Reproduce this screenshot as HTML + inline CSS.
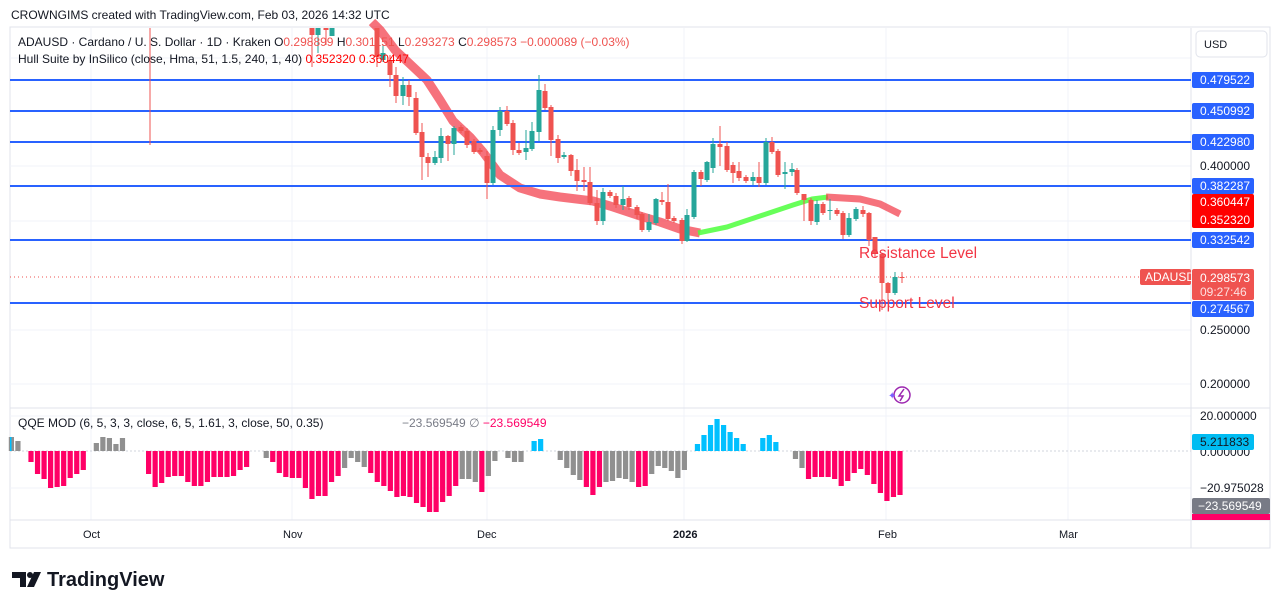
<!DOCTYPE html>
<html><head><meta charset="utf-8">
<style>
body{margin:0;background:#fff;width:1281px;height:609px;overflow:hidden;font-family:"Liberation Sans",sans-serif;}
svg text{font-family:"Liberation Sans",sans-serif;}
</style></head><body>
<svg id="s" width="1281" height="609" viewBox="0 0 1281 609" xmlns="http://www.w3.org/2000/svg">
<rect width="1281" height="609" fill="#fff"/>
<text x="11" y="19" font-size="12" fill="#131722">CROWNGIMS created with TradingView.com, Feb 03, 2026 14:32 UTC</text>
<rect x="10" y="27" width="1260" height="521" fill="none" stroke="#e0e3eb"/>
<g stroke="#f0f3fa" stroke-width="1">
<line x1="10" y1="58" x2="1191" y2="58"/><line x1="10" y1="166" x2="1191" y2="166"/><line x1="10" y1="221" x2="1191" y2="221"/>
<line x1="10" y1="330" x2="1191" y2="330"/><line x1="10" y1="384" x2="1191" y2="384"/>
<line x1="10" y1="416" x2="1191" y2="416"/><line x1="10" y1="488" x2="1191" y2="488"/>
<line x1="91" y1="28" x2="91" y2="520"/><line x1="292" y1="28" x2="292" y2="520"/><line x1="487" y1="28" x2="487" y2="520"/>
<line x1="684" y1="28" x2="684" y2="520"/><line x1="886" y1="28" x2="886" y2="520"/><line x1="1068" y1="28" x2="1068" y2="520"/>
</g>
<line x1="10" y1="408" x2="1270" y2="408" stroke="#e0e3eb"/>
<line x1="10" y1="520" x2="1270" y2="520" stroke="#e0e3eb"/>
<line x1="1191" y1="28" x2="1191" y2="548" stroke="#e0e3eb"/>
<line x1="10" y1="277" x2="1191" y2="277" stroke="#ef5350" stroke-dasharray="1,3"/>
<line x1="10" y1="451" x2="1191" y2="451" stroke="#d1d4dc" stroke-dasharray="2,2"/>
<g id="hull"></g>
<g stroke="#2962ff" stroke-width="2">
<line x1="10" y1="80" x2="1191" y2="80"/><line x1="10" y1="111" x2="1191" y2="111"/><line x1="10" y1="142" x2="1191" y2="142"/>
<line x1="10" y1="186" x2="1191" y2="186"/><line x1="10" y1="240" x2="1191" y2="240"/><line x1="10" y1="303" x2="1191" y2="303"/>
</g>
<line x1="150" y1="28" x2="150" y2="145" stroke="#ef5350"/>
<g id="cand"></g>
<g id="qqe"></g>
<text x="18" y="46" font-size="12" fill="#131722">ADAUSD · Cardano / U. S. Dollar · 1D · Kraken <tspan>O</tspan><tspan fill="#ef5350">0.298899</tspan>  H<tspan fill="#ef5350">0.301151</tspan>  L<tspan fill="#ef5350">0.293273</tspan>  C<tspan fill="#ef5350">0.298573  −0.000089 (−0.03%)</tspan></text>
<text x="18" y="63" font-size="12" fill="#131722">Hull Suite by InSilico (close, Hma, 51, 1.5, 240, 1, 40) <tspan fill="#ff0000">0.352320</tspan>  <tspan fill="#ff0000">0.360447</tspan></text>
<text x="18" y="427" font-size="12" fill="#131722">QQE MOD (6, 5, 3, 3, close, 6, 5, 1.61, 3, close, 50, 0.35)</text>
<text x="402" y="427" font-size="12" fill="#787b86">−23.569549  ∅ <tspan fill="#ff0066">−23.569549</tspan></text>
<text x="859" y="258" font-size="15.5" fill="#f23645">Resistance Level</text>
<text x="859" y="308" font-size="15.5" fill="#f23645">Support Level</text>
<circle cx="902" cy="395" r="8" fill="none" stroke="#9c27b0" stroke-width="1.5"/>
<path d="M904 389 L899 396 L903 396 L900 401" fill="none" stroke="#9c27b0" stroke-width="1.5"/>
<text x="888" y="399" font-size="10" fill="#7b61ff">✦</text>
<rect x="1196" y="31" width="71" height="26" rx="4" fill="#fff" stroke="#e0e3eb"/>
<text x="1204" y="48" font-size="11" fill="#131722">USD</text>
<g font-size="12" fill="#fff">
<rect x="1192" y="72" width="62" height="16" rx="2" fill="#2962ff"/><text x="1200" y="84">0.479522</text>
<rect x="1192" y="103" width="62" height="16" rx="2" fill="#2962ff"/><text x="1200" y="115">0.450992</text>
<rect x="1192" y="134" width="62" height="16" rx="2" fill="#2962ff"/><text x="1200" y="146">0.422980</text>
<text x="1200" y="170" fill="#131722">0.400000</text>
<rect x="1192" y="178" width="62" height="16" rx="2" fill="#2962ff"/><text x="1200" y="190">0.382287</text>
<rect x="1192" y="194" width="62" height="34" rx="2" fill="#ff0000"/><text x="1200" y="206">0.360447</text><text x="1200" y="224">0.352320</text>
<rect x="1192" y="232" width="62" height="16" rx="2" fill="#2962ff"/><text x="1200" y="244">0.332542</text>
<rect x="1140" y="269" width="51" height="16" rx="2" fill="#ef5350"/><text x="1145" y="281">ADAUSD</text>
<rect x="1192" y="269" width="62" height="31" rx="2" fill="#ef5350"/><text x="1200" y="282">0.298573</text><text x="1200" y="296" fill="#fde0e0">09:27:46</text>
<rect x="1192" y="301" width="62" height="16" rx="2" fill="#2962ff"/><text x="1200" y="313">0.274567</text>
<text x="1200" y="334" fill="#131722">0.250000</text>
<text x="1200" y="388" fill="#131722">0.200000</text>
<text x="1200" y="420" fill="#131722">20.000000</text>
<text x="1200" y="456" fill="#131722">0.000000</text>
<rect x="1192" y="434" width="62" height="16" rx="2" fill="#00bcf2"/><text x="1200" y="446" fill="#131722">5.211833</text>
<text x="1200" y="492" fill="#131722">−20.975028</text>
<rect x="1192" y="498" width="78" height="16" rx="2" fill="#787b86"/><text x="1198" y="510">−23.569549</text>
<rect x="1192" y="514" width="78" height="6" fill="#ff0066"/>
</g>
<g font-size="11" fill="#131722">
<text x="83" y="538">Oct</text><text x="283" y="538">Nov</text><text x="477" y="538">Dec</text>
<text x="673" y="538" font-weight="bold">2026</text><text x="878" y="538">Feb</text><text x="1059" y="538">Mar</text>
</g>
<g fill="#131722">
<path d="M12 572 h14 v15 h-6 v-9 h-8z"/><circle cx="30" cy="575" r="3"/><path d="M34 572 h7 l-7 15 h-7z"/>
<text x="47" y="586" font-size="20" font-weight="bold">TradingView</text>
</g>
</svg>
<script>
var NS="http://www.w3.org/2000/svg";
function el(p,t,a){var e=document.createElementNS(NS,t);for(var k in a)e.setAttribute(k,a[k]);p.appendChild(e);return e;}
var hull=document.getElementById('hull');
var red=[[372,22],[380,30],[395,50],[410,64],[427,80],[440,100],[453,121],[470,137],[483,152],[500,175],[520,188],[540,194],[560,197],[593,201],[610,206],[640,216],[660,222],[680,229],[700,233]];
var grn=[[698,233],[727,227],[760,216],[793,205],[812,199],[828,197]];
var red2=[[826,197],[860,199],[880,204],[900,214]];
function band(pts,c,w,o){var d=pts.map(function(p,i){return (i?'L':'M')+p[0]+' '+p[1];}).join(' ');el(hull,'path',{d:d,fill:'none',stroke:c,'stroke-width':w,'stroke-opacity':o,'stroke-linecap':'butt','stroke-linejoin':'round'});}
band(red,'#f23645',9,0.7);band(grn,'#4cff3c',5,0.85);band(red2,'#f23645',7,0.7);
var C=[[312,28,35,28,67,'r'],[318,35,28,28,53,'g'],[326,28,30,28,45,'r'],[332,36,28,28,36,'g'],
[377,28,57,28,67,'r'],[383,60,53,45,62,'g'],[390,60,75,55,87,'r'],[396,75,96,67,103,'r'],[403,96,85,77,105,'g'],[409,85,97,80,106,'r'],
[416,98,133,92,135,'r'],[422,132,157,123,180,'r'],[428,157,163,153,177,'r'],[435,163,157,151,165,'g'],[441,158,136,128,163,'g'],
[448,136,144,135,161,'r'],[454,144,128,126,155,'g'],[461,127,131,125,133,'r'],[467,131,145,128,148,'r'],[474,141,152,139,154,'r'],
[480,150,152,148,154,'r'],[487,156,183,151,199,'r'],[493,183,130,126,185,'g'],[500,130,111,107,136,'g'],[507,111,124,106,126,'r'],
[513,123,150,120,155,'r'],[519,150,153,143,155,'r'],[526,152,148,130,160,'g'],[532,149,131,122,151,'g'],[539,132,90,75,141,'g'],
[545,91,108,84,110,'r'],[551,107,140,105,156,'r'],[558,139,158,135,163,'r'],[564,157,155,152,159,'g'],[571,155,171,154,176,'r'],
[577,170,181,159,191,'r'],[584,180,182,167,191,'r'],[590,182,203,167,205,'r'],[597,203,221,190,225,'r'],[603,221,192,188,225,'g'],
[610,192,196,190,198,'r'],[616,196,205,193,208,'r'],[623,205,199,186,210,'g'],[629,198,207,196,210,'r'],[637,207,215,205,219,'r'],
[642,214,230,212,232,'r'],[649,230,222,214,232,'g'],[656,223,199,198,225,'g'],[662,200,202,192,205,'r'],[668,202,219,184,221,'r'],
[674,218,221,216,223,'r'],[682,220,241,218,244,'r'],[687,241,215,209,242,'g'],[694,217,172,170,219,'g'],[701,172,179,170,186,'r'],
[707,180,162,161,182,'g'],[713,168,144,138,173,'g'],[720,144,147,126,166,'r'],[727,146,170,142,172,'r'],[733,165,173,162,183,'r'],
[739,171,178,162,181,'r'],[746,177,181,175,183,'r'],[753,181,177,172,185,'g'],[759,177,183,162,187,'r'],[766,183,142,138,185,'g'],
[772,142,152,137,154,'r'],[778,151,175,149,177,'r'],[785,174,172,162,189,'g'],[792,172,169,163,176,'g'],[797,170,193,168,195,'r'],
[804,194,200,194,221,'r'],[811,200,221,198,225,'r'],[817,222,204,200,225,'g'],[823,204,213,202,215,'r'],[830,210,211,199,220,'g'],
[837,210,214,208,216,'r'],[843,213,235,211,239,'r'],[849,235,218,213,237,'g'],[856,219,209,207,221,'g'],[863,210,214,206,217,'r'],
[869,213,240,212,246,'r'],[875,237,254,237,258,'r'],[882,254,283,253,310,'r'],[888,283,293,282,300,'r'],[895,293,277,272,295,'g'],[902,277,278,272,283,'r']];
var cg=document.getElementById('cand');
C.forEach(function(c){var col=c[5]=='r'?'#ef5350':'#26a69a';var t=Math.min(c[1],c[2]),b=Math.max(c[1],c[2]);
el(cg,'line',{x1:c[0],x2:c[0],y1:c[3],y2:c[4],stroke:col});
el(cg,'rect',{x:c[0]-2.5,y:t,width:5,height:Math.max(1,b-t),fill:col});});
var Q="g14 g10 0 r-11 r-23 r-28 r-37 r-36 r-35 r-27 r-23 r-19 0 g8 g14 g13 g7 g13 0 0 0 r-23 r-36 r-32 r-26 r-25 r-25 r-31 r-35 r-35 r-31 r-26 r-26 r-26 r-25 r-19 r-16 0 0 g-7 r-11 r-22 r-26 r-27 r-27 r-37 r-48 r-45 r-45 r-31 r-25 g-17 g-7 g-11 g-16 r-22 r-31 r-35 r-40 r-46 r-45 r-46 r-52 r-56 r-61 r-61 r-51 r-45 r-35 g-28 g-28 g-31 r-41 g-25 g-10 0 g-7 g-11 g-11 0 b10 b12 0 0 g-9 g-17 g-24 g-29 r-36 r-44 r-36 g-31 g-30 g-27 g-28 g-31 r-36 r-35 g-23 g-15 g-17 g-20 g-27 g-19 0 b7 b16 b26 b32 b26 b19 b13 b7 0 0 b13 b16 b9 0 0 g-8 g-17 r-28 r-26 r-26 r-26 r-28 r-35 r-30 r-22 r-18 r-24 r-33 r-42 r-50 r-46 r-44".split(' ');
var qg=document.getElementById('qqe');var cols={g:'#909090',r:'#ff0066',b:'#00c0ff'};
Q.forEach(function(s,i){if(s=='0')return;var v=parseFloat(s.slice(1));var x=11.4+i*(888.6/136);
var y=v>0?451-v:451;el(qg,'rect',{x:x-2.6,y:y,width:5.2,height:Math.abs(v),fill:cols[s[0]]});});
el(qg,'rect',{x:10,y:437,width:1.5,height:14,fill:'#00c0ff'});
</script>
</body></html>
